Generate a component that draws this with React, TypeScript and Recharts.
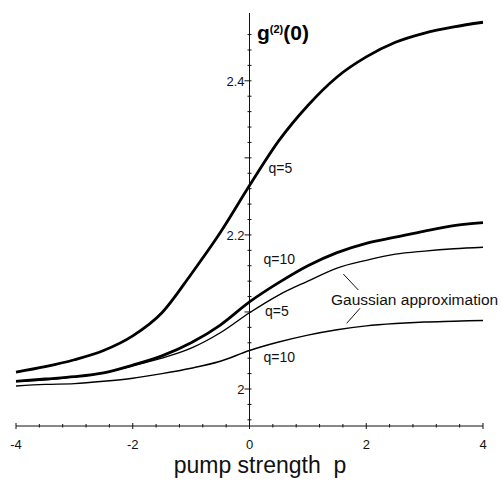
import { LineChart, Line, XAxis, YAxis, ReferenceLine, ReferenceDot } from "recharts";

// pump strength p (x) and g2(0) for each curve
const pumpStrength = [-4, -3.5, -3, -2.5, -2, -1.5, -1, -0.5, 0, 0.5, 1, 1.5, 2, 2.5, 3, 3.5, 4];
const exactQ5 = [2.022, 2.029, 2.038, 2.05, 2.069, 2.099, 2.149, 2.203, 2.264, 2.322, 2.368, 2.405, 2.431, 2.45, 2.462, 2.47, 2.476];
const exactQ10 = [2.01, 2.013, 2.016, 2.021, 2.031, 2.043, 2.06, 2.083, 2.113, 2.138, 2.16, 2.177, 2.189, 2.197, 2.205, 2.212, 2.216];
const gaussQ5 = [2.01, 2.012, 2.016, 2.021, 2.03, 2.04, 2.053, 2.073, 2.099, 2.122, 2.14, 2.157, 2.167, 2.175, 2.179, 2.182, 2.184];
const gaussQ10 = [2.004, 2.006, 2.007, 2.01, 2.014, 2.02, 2.027, 2.036, 2.05, 2.061, 2.07, 2.077, 2.082, 2.085, 2.087, 2.088, 2.089];

const xTicks = [-4, -3.6, -3.2, -2.8, -2.4, -2, -1.6, -1.2, -0.8, -0.4, 0, 0.4, 0.8, 1.2, 1.6, 2, 2.4, 2.8, 3.2, 3.6, 4];
const xLabels = [-4, -2, 0, 2, 4];
const yMinorTicks = [1.96, 1.98, 2.02, 2.04, 2.06, 2.08, 2.12, 2.14, 2.16, 2.18, 2.22, 2.24, 2.26, 2.28, 2.32, 2.34, 2.36, 2.38, 2.42, 2.44, 2.46];
const yMajorTicks = [2, 2.1, 2.2, 2.3, 2.4];
const yLabels = ["2", "", "2.2", "", "2.4"];

const data = pumpStrength.map((p, i) => ({
  p,
  exactQ5: exactQ5[i],
  exactQ10: exactQ10[i],
  gaussQ5: gaussQ5[i],
  gaussQ10: gaussQ10[i],
}));

const font = "'Liberation Sans', Arial, sans-serif";

function XTick(props: any) {
  const { x, y, payload } = props;
  const major = xLabels.includes(payload.value);
  return (
    <g>
      <line x1={x} x2={x} y1={major ? y - 3 : y - 2} y2={major ? y + 3 : y + 1.5} stroke="#111" strokeWidth={1} />
      {major && (
        <text x={x} y={y + 23} textAnchor="middle" fontSize={13} fontFamily={font} fill="#111">
          {payload.value}
        </text>
      )}
    </g>
  );
}

function yTickShape(label: string | null) {
  return (props: any) => {
    const { cx, cy } = props;
    if (label === null) {
      return <line x1={cx - 2} x2={cx + 2} y1={cy} y2={cy} stroke="#111" strokeWidth={1} />;
    }
    return (
      <g>
        <line x1={cx - 5} x2={cx + 2} y1={cy} y2={cy} stroke="#111" strokeWidth={1} />
        {label && (
          <text x={cx - 5} y={cy + 5} textAnchor="end" fontSize={13} fontFamily={font} fill="#111">
            {label}
          </text>
        )}
      </g>
    );
  };
}

export default function App() {
  return (
    <div style={{ position: "relative", width: 501, height: 485, background: "#fff" }}>
      <style>{"body{margin:0}"}</style>
      <LineChart width={501} height={485} data={data} margin={{ top: 13, right: 18, left: 16, bottom: 29 }}>
        <XAxis
          dataKey="p"
          type="number"
          domain={[-4, 4]}
          ticks={xTicks}
          interval={0}
          tickSize={0}
          tickMargin={0}
          tickLine={false}
          tick={<XTick />}
          axisLine={{ stroke: "#111", strokeWidth: 1 }}
          height={30}
        />
        <YAxis type="number" domain={[1.952, 2.488]} hide allowDataOverflow />
        <ReferenceLine x={0} stroke="#111" strokeWidth={1} />
        {yMinorTicks.map((v) => (
          <ReferenceDot key={"m" + v} x={0} y={v} r={0} shape={yTickShape(null)} />
        ))}
        {yMajorTicks.map((v, i) => (
          <ReferenceDot key={"M" + v} x={0} y={v} r={0} shape={yTickShape(yLabels[i])} />
        ))}
        <Line type="monotone" dataKey="gaussQ10" stroke="#000" strokeWidth={1.4} dot={false} isAnimationActive={false} />
        <Line type="monotone" dataKey="gaussQ5" stroke="#000" strokeWidth={1.4} dot={false} isAnimationActive={false} />
        <Line type="monotone" dataKey="exactQ10" stroke="#000" strokeWidth={2.8} dot={false} isAnimationActive={false} />
        <Line type="monotone" dataKey="exactQ5" stroke="#000" strokeWidth={2.8} dot={false} isAnimationActive={false} />
      </LineChart>
      <svg width={501} height={485} style={{ position: "absolute", left: 0, top: 0, pointerEvents: "none" }}>
        <text x={257} y={40} fontFamily={font} fontWeight="bold" fontSize={21} fill="#000">
          g<tspan fontSize={11} dy={-7}>(2)</tspan>
          <tspan dy={7}>(0)</tspan>
        </text>
        <text x={260} y={473} textAnchor="middle" fontFamily={font} fontSize={23} fill="#111">
          pump strength{"\u00a0"} p
        </text>
        <g fontFamily={font} fontSize={14} fill="#111">
          <text x={268.5} y={172.5}>q=5</text>
          <text x={263.5} y={263.5}>q=10</text>
          <text x={265} y={315.5}>q=5</text>
          <text x={263.5} y={362}>q=10</text>
          <text x={331} y={304.5} fontSize={15.5}>Gaussian approximation</text>
        </g>
        <line x1={343.3} y1={274} x2={358.3} y2={290} stroke="#111" strokeWidth={1} />
        <line x1={360} y1={308.3} x2={346.7} y2={323.3} stroke="#111" strokeWidth={1} />
      </svg>
    </div>
  );
}
